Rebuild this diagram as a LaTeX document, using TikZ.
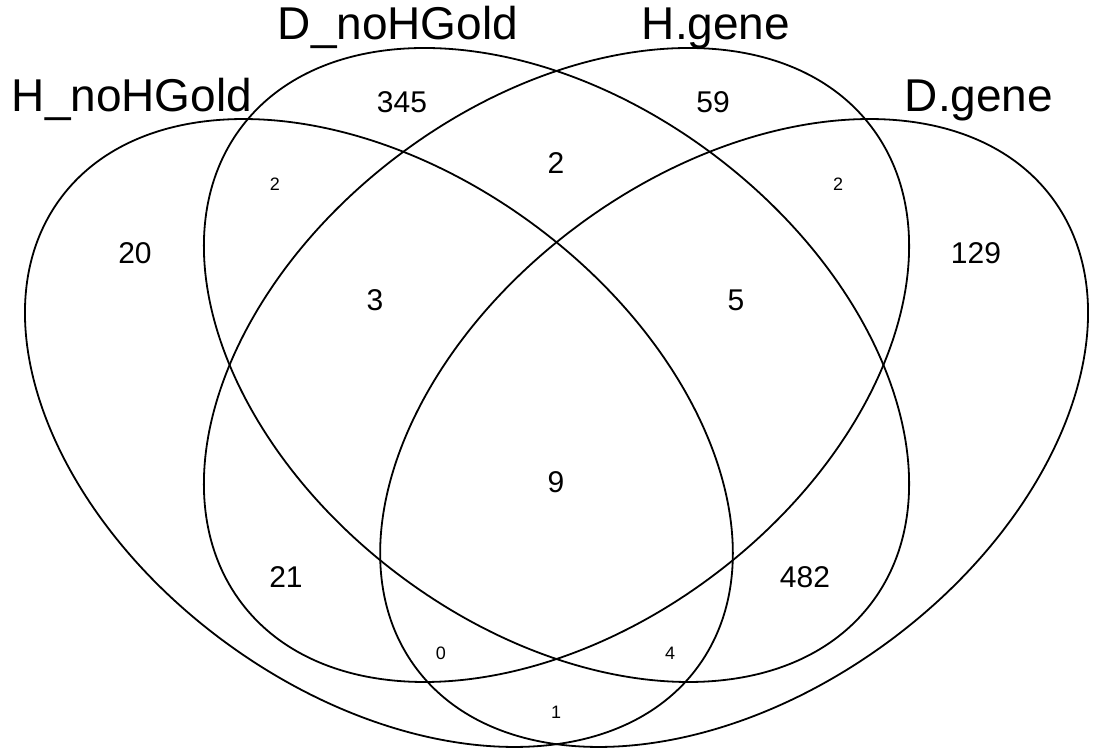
\documentclass[tikz,border=0pt]{standalone}
\usepackage{fontspec}
\setmainfont{Liberation Sans}
\begin{document}
\begin{tikzpicture}[x=1pt,y=1pt,
  venn/.style={draw=black, line width=1.8pt},
  cat/.style={font=\fontsize{46}{50}\selectfont, anchor=base, inner sep=0pt},
  num/.style={font=\fontsize{30}{34}\selectfont, inner sep=0pt},
  sml/.style={font=\fontsize{18}{22}\selectfont, inner sep=0pt}]
\useasboundingbox (0,0) rectangle (1095,751);
% ellipses
\draw[venn, rotate around={-36.29:(378.9,318)}] (378.9,318) ellipse [x radius=395.5, y radius=259.6];
\draw[venn, rotate around={36.29:(734.1,318)}] (734.1,318) ellipse [x radius=395.5, y radius=259.6];
\draw[venn, rotate around={-37.06:(556.5,386)}] (556.5,386) ellipse [x radius=394.8, y radius=262.5];
\draw[venn, rotate around={37.06:(556.5,386)}] (556.5,386) ellipse [x radius=394.8, y radius=262.5];
% category labels
\node[cat] (hno) at (132,639) {H\_noHGold};
\node[cat] (dno) at (398,711) {D\_noHGold};
\node[cat] (hg) at (716,711) {H.gene};
\node[cat] (dg) at (979,639) {D.gene};
% counts
\node[num] (n345) at (402,649) {345};
\node[num] (n59) at (713,649) {59};
\node[num] (n2c) at (556,588) {2};
\node[sml] (n2l) at (275,567) {2};
\node[sml] (n2r) at (838,567) {2};
\node[num] (n20) at (135,498) {20};
\node[num] (n129) at (976,498) {129};
\node[num] (n3) at (375,451) {3};
\node[num] (n5) at (736,451) {5};
\node[num] (n9) at (556,269) {9};
\node[num] (n21) at (286,174) {21};
\node[num] (n482) at (805,174) {482};
\node[sml] (n0) at (441,98) {0};
\node[sml] (n4) at (670,98) {4};
\node[sml] (n1) at (556,39) {1};
\end{tikzpicture}
\end{document}
